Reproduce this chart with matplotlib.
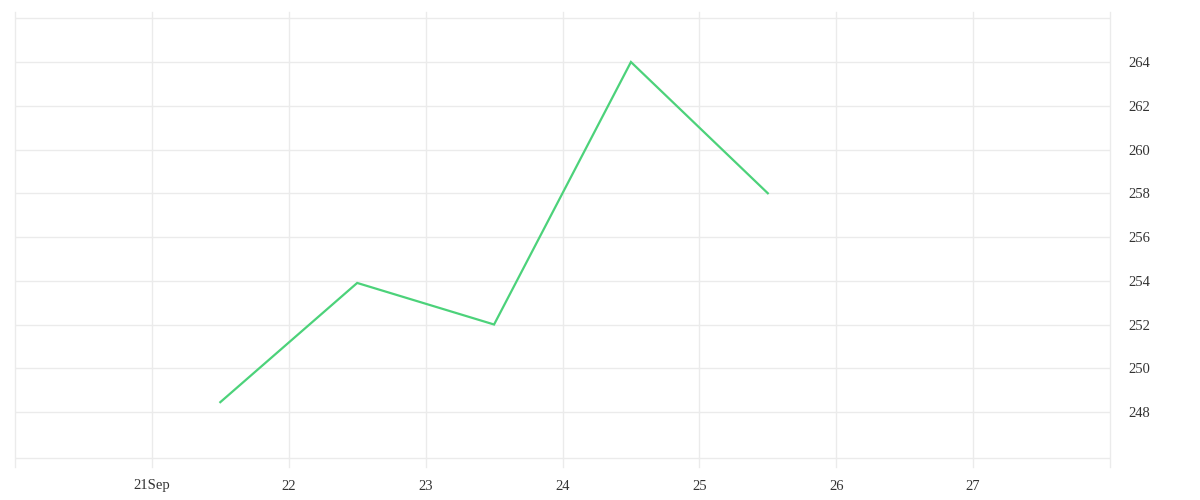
import matplotlib
matplotlib.use("Agg")
import matplotlib.pyplot as plt
import datetime as dt

# Data
dates = ["2023-09-21 12:00", "2023-09-22 12:00", "2023-09-23 12:00", "2023-09-24 12:00", "2023-09-25 12:00"]
values = [248.45, 253.9, 252.0, 264.0, 258.0]
x_tick_dates = ["2023-09-20", "2023-09-21", "2023-09-22", "2023-09-23", "2023-09-24",
                "2023-09-25", "2023-09-26", "2023-09-27", "2023-09-28"]
x_tick_labels = ["", "21Sep", "22", "23", "24", "25", "26", "27", ""]
y_ticks = [248, 250, 252, 254, 256, 258, 260, 262, 264]
y_tick_labels = ["248", "250", "252", "254", "256", "258", "260", "262", "264"]

plt.rcParams['font.family'] = ['Liberation Serif', 'DejaVu Serif']

fig = plt.figure(figsize=(12, 5), dpi=100)
ax = fig.add_axes([15/1200, 33/500, 1095/1200, 455/500])

xd = [dt.datetime.strptime(d, "%Y-%m-%d %H:%M") for d in dates]
ax.plot(xd, values, color="#4cd27a", linewidth=1.6, solid_joinstyle="miter")

xt = [dt.datetime.strptime(d, "%Y-%m-%d") for d in x_tick_dates]
ax.set_xlim(xt[0], xt[-1])
ax.set_ylim(245.486, 266.286)

grid_c = "#ebebeb"
for t in xt:
    ax.axvline(t, color=grid_c, linewidth=1, zorder=0, clip_on=False)
for v in y_ticks:
    ax.axhline(v, color=grid_c, linewidth=1, zorder=0)
ax.axhline(266.0, color=grid_c, linewidth=1, zorder=0)
ax.axhline(245.9, color=grid_c, linewidth=1, zorder=0)

ax.set_xticks(xt)
ax.set_xticklabels(x_tick_labels)
ax.yaxis.tick_right()
ax.set_yticks(y_ticks)
ax.set_yticklabels(y_tick_labels)
ax.tick_params(axis="both", length=0, labelsize=10.5, colors="#333333")
ax.tick_params(axis="x", pad=9)
ax.tick_params(axis="y", pad=13)
for s in ax.spines.values():
    s.set_visible(False)

fig.savefig("out.png", dpi=100, facecolor="white")
